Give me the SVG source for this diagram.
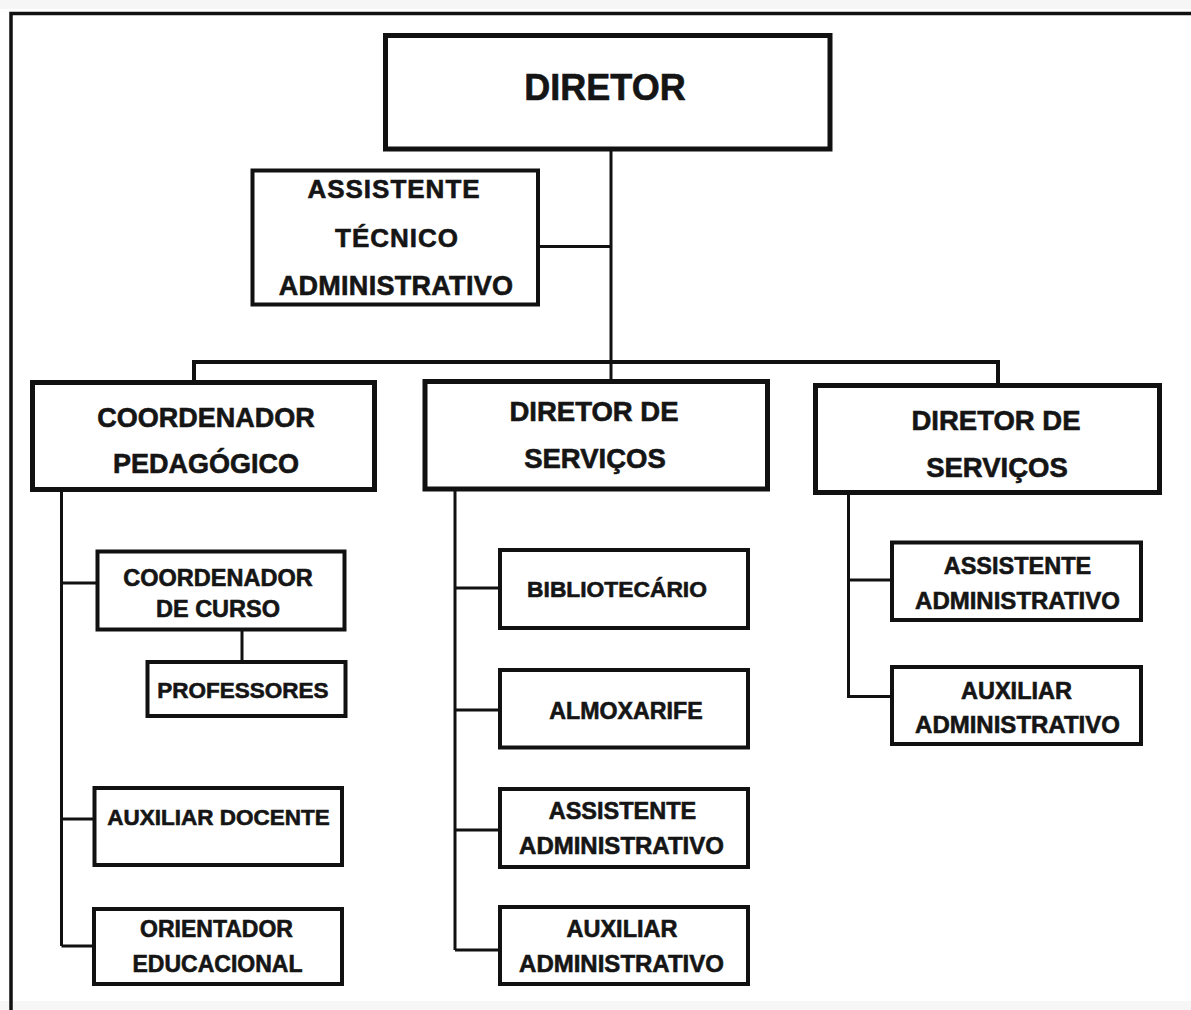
<svg xmlns="http://www.w3.org/2000/svg" width="1191" height="1010" viewBox="0 0 1191 1010">
<style>
.bx{fill:#fff;stroke:#111;}
.b5{stroke-width:5;}
.b4{stroke-width:4;}
.ln{fill:none;stroke:#111;stroke-width:3;}
text{font-family:"Liberation Sans",Arial,sans-serif;font-weight:bold;fill:#151515;stroke:#151515;stroke-width:0.6;text-anchor:middle;}
</style>
<rect x="0" y="0" width="1191" height="1010" fill="#fff"/>
<rect x="0" y="0" width="1191" height="9" fill="#f6f6f6"/>
<rect x="0" y="1001" width="1191" height="9" fill="#f6f6f6"/>
<g id="frame">
<path d="M11 1010 V13.5 H1191" fill="none" stroke="#111" stroke-width="3.5"/>
</g>
<g id="connectors">
<path class="ln" d="M611 149 V380"/>
<path class="ln" d="M538 246.5 H611"/>
<path class="ln" style="stroke-width:4" d="M194 380 V362 H998 V384"/>
<path class="ln" d="M61.5 490 V946 M61.5 583 H96 M61.5 819 H95 M61.5 946 H95"/>
<path class="ln" d="M242 630 V662"/>
<path class="ln" d="M455 489 V950 M455 588 H500 M455 710 H500 M455 830 H500 M455 950 H500"/>
<path class="ln" d="M848.5 492 V696.5 H892 M848.5 580 H892"/>
</g>
<g id="diretor">
<rect class="bx b5" x="385.5" y="35.5" width="444.5" height="113.5"/>
<text x="605" y="100" font-size="36">DIRETOR</text>
</g>
<g id="assistente-tecnico">
<rect class="bx b4" x="252.5" y="170.5" width="285.5" height="134"/>
<text x="394" y="198" font-size="26" letter-spacing="1">ASSISTENTE</text>
<text x="397" y="247" font-size="26" letter-spacing="1">TÉCNICO</text>
<text x="396" y="295" font-size="27" letter-spacing="0.3">ADMINISTRATIVO</text>
</g>
<g id="coord-pedagogico">
<rect class="bx b5" x="32.5" y="382.5" width="342" height="107"/>
<text x="206" y="427" font-size="27">COORDENADOR</text>
<text x="206" y="473" font-size="27">PEDAGÓGICO</text>
</g>
<g id="diretor-servicos-1">
<rect class="bx b5" x="425" y="381.5" width="342.5" height="107.5"/>
<text x="594" y="421" font-size="27.5">DIRETOR DE</text>
<text x="595" y="468" font-size="27.5">SERVIÇOS</text>
</g>
<g id="diretor-servicos-2">
<rect class="bx b5" x="815.5" y="385.5" width="344" height="107"/>
<text x="996" y="430" font-size="27.5">DIRETOR DE</text>
<text x="997" y="477" font-size="27.5">SERVIÇOS</text>
</g>
<g id="coord-curso">
<rect class="bx b4" x="97.5" y="551.5" width="247" height="78"/>
<text x="218" y="586" font-size="23.5">COORDENADOR</text>
<text x="218" y="617" font-size="23.5">DE CURSO</text>
</g>
<g id="professores">
<rect class="bx b4" x="147.5" y="662" width="198" height="54"/>
<text x="243" y="698" font-size="22.5">PROFESSORES</text>
</g>
<g id="auxiliar-docente">
<rect class="bx b4" x="94.5" y="788" width="247.5" height="77"/>
<text x="218.5" y="825" font-size="22.5">AUXILIAR DOCENTE</text>
</g>
<g id="orientador">
<rect class="bx b4" x="94" y="909" width="248" height="75"/>
<text x="216.5" y="937" font-size="23">ORIENTADOR</text>
<text x="217.5" y="972" font-size="23">EDUCACIONAL</text>
</g>
<g id="bibliotecario">
<rect class="bx b4" x="500" y="550" width="248" height="78"/>
<text x="617" y="596.5" font-size="22.8">BIBLIOTECÁRIO</text>
</g>
<g id="almoxarife">
<rect class="bx b4" x="500" y="670" width="248" height="77.5"/>
<text x="626" y="719" font-size="23.2">ALMOXARIFE</text>
</g>
<g id="assistente-adm-1">
<rect class="bx b4" x="500" y="789" width="248" height="78"/>
<text x="622.5" y="819" font-size="23.5">ASSISTENTE</text>
<text x="621.5" y="854" font-size="24">ADMINISTRATIVO</text>
</g>
<g id="auxiliar-adm-1">
<rect class="bx b4" x="500" y="907" width="248" height="77"/>
<text x="622" y="937" font-size="23.5">AUXILIAR</text>
<text x="621.5" y="972" font-size="24">ADMINISTRATIVO</text>
</g>
<g id="assistente-adm-2">
<rect class="bx b4" x="892" y="542.5" width="249" height="77.5"/>
<text x="1017.5" y="574" font-size="23.5">ASSISTENTE</text>
<text x="1017.5" y="609" font-size="24">ADMINISTRATIVO</text>
</g>
<g id="auxiliar-adm-2">
<rect class="bx b4" x="892" y="667" width="249" height="77"/>
<text x="1016.5" y="698.5" font-size="23.5">AUXILIAR</text>
<text x="1017.5" y="733" font-size="24">ADMINISTRATIVO</text>
</g>
</svg>
